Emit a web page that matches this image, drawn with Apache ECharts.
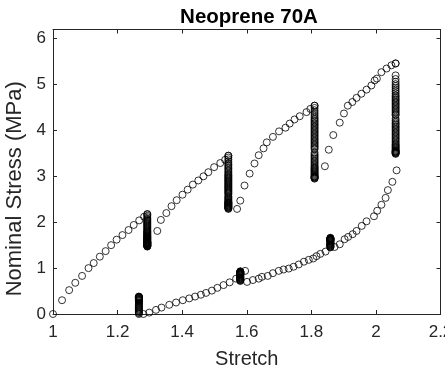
<!DOCTYPE html>
<html>
<head>
<meta charset="utf-8">
<script src="https://cdn.jsdelivr.net/npm/echarts@6/dist/echarts.min.js"></script>
<style>
html,body{margin:0;padding:0;background:#fff;}
#chart{width:445px;height:379px;}
</style>
</head>
<body>
<div id="chart"></div>
<script>
// ---- data ----
const titleText = 'Neoprene 70A';
const xName = 'Stretch';
const yName = 'Nominal Stress (MPa)';
const xTicks = [1, 1.2, 1.4, 1.6, 1.8, 2, 2.2];
const yTicks = [0, 1, 2, 3, 4, 5, 6];

// loading ramps
const loadingStretch = [
  1.000,1.028,1.050,1.069,1.090,1.110,1.126,1.145,1.163,1.180,1.197,1.215,1.234,1.250,1.267,1.282,1.292,
  1.323,1.334,1.351,1.367,1.383,1.401,1.417,1.433,1.450,1.466,1.481,1.499,1.518,1.533,1.543,
  1.570,1.580,1.593,1.609,1.624,1.637,1.652,1.662,1.681,1.700,1.720,1.733,1.748,1.764,1.785,1.797,1.810,
  1.842,1.854,1.868,1.888,1.901,1.913,1.927,1.940,1.955,1.971,1.986,1.996,2.003,2.017,2.033,2.048,2.061
];
const loadingStress = [
  0.00,0.30,0.52,0.68,0.83,1.00,1.11,1.25,1.37,1.50,1.62,1.72,1.83,1.94,2.04,2.12,2.18,
  1.81,2.05,2.20,2.35,2.48,2.60,2.71,2.82,2.91,3.00,3.09,3.20,3.29,3.36,3.45,
  2.29,2.47,2.80,3.06,3.28,3.46,3.61,3.74,3.86,3.98,4.06,4.15,4.24,4.31,4.40,4.47,4.54,
  3.22,3.58,3.90,4.17,4.37,4.54,4.62,4.71,4.80,4.89,4.98,5.09,5.13,5.27,5.35,5.42,5.46
];

// relaxation holds during loading
const relaxStretch = [1.292, 1.543, 1.810, 2.061];
const relax1Stress = [2.17,2.14,2.11,2.08,2.06,2.04,2.02,2.00,1.98,1.96,1.94,1.92,1.90,1.88,1.86,1.84,1.82,1.80,1.79,1.78,1.76,1.75,1.74,1.72,1.71,1.70,1.69,1.68,1.67,1.66,1.65,1.64,1.63,1.62,1.61,1.60,1.59,1.58,1.575,1.57,1.565,1.56,1.555,1.55,1.545,1.54,1.535,1.53,1.525,1.52,1.515,1.51,1.505,1.50,1.495,1.49,1.485,1.48,1.475,1.47];
const relax2Stress = [3.45,3.41,3.37,3.33,3.29,3.26,3.23,3.20,3.17,3.14,3.11,3.08,3.05,3.03,3.01,2.99,2.97,2.95,2.93,2.91,2.89,2.87,2.85,2.83,2.81,2.79,2.77,2.75,2.73,2.71,2.69,2.67,2.65,2.63,2.61,2.57,2.55,2.53,2.51,2.49,2.47,2.45,2.44,2.43,2.42,2.41,2.40,2.39,2.38,2.37,2.36,2.35,2.34,2.33,2.32,2.31,2.30,2.29];
const relax3Stress = [4.54,4.49,4.44,4.40,4.36,4.32,4.28,4.25,4.22,4.19,4.16,4.13,4.10,4.07,4.04,4.01,3.98,3.95,3.92,3.89,3.86,3.83,3.80,3.77,3.74,3.71,3.68,3.65,3.62,3.59,3.52,3.48,3.45,3.42,3.39,3.36,3.33,3.30,3.27,3.24,3.21,3.19,3.17,3.15,3.13,3.11,3.09,3.07,3.05,3.03,3.01,3.00,2.99,2.98,2.97,2.96,2.95];
const relax4Stress = [5.46,5.20,5.12,5.06,5.01,4.97,4.93,4.89,4.85,4.81,4.77,4.74,4.71,4.68,4.65,4.62,4.59,4.56,4.53,4.50,4.47,4.44,4.41,4.38,4.35,4.33,4.26,4.22,4.18,4.15,4.12,4.09,4.06,4.03,4.00,3.97,3.94,3.91,3.88,3.85,3.82,3.79,3.76,3.73,3.70,3.68,3.66,3.64,3.62,3.60,3.58,3.56,3.55,3.54,3.53,3.52,3.51,3.50,3.49];

// unloading path
const unloadingStretch = [
  2.064,2.051,2.037,2.030,2.017,2.004,1.994,1.971,1.956,1.940,1.928,1.914,1.903,1.888,1.872,
  1.844,1.828,1.816,1.806,1.792,1.777,1.761,1.745,1.730,1.714,1.699,1.681,1.665,1.647,1.637,1.619,1.601,1.595,
  1.567,1.547,1.528,1.509,1.492,1.474,1.458,1.440,1.422,1.402,1.381,1.360,1.336,1.319,1.298,1.280
];
const unloadingStress = [
  3.13,2.88,2.70,2.53,2.38,2.25,2.13,2.02,1.92,1.81,1.74,1.68,1.63,1.52,1.46,
  1.36,1.31,1.26,1.21,1.18,1.14,1.08,1.03,0.99,0.97,0.94,0.89,0.83,0.81,0.77,0.74,0.70,0.94,
  0.77,0.69,0.63,0.57,0.51,0.46,0.42,0.38,0.34,0.30,0.25,0.20,0.14,0.09,0.03,0.00
];

// recovery holds during unloading
const recoveryStretch = [1.859, 1.580, 1.266];
const recovery1Stress = [1.45,1.46,1.47,1.48,1.49,1.50,1.51,1.52,1.53,1.54,1.55,1.56,1.57,1.58,1.59,1.60,1.605,1.61,1.615,1.62,1.625,1.63,1.635,1.64,1.645,1.65,1.655,1.66];
const recovery2Stress = [0.72,0.73,0.74,0.75,0.76,0.77,0.78,0.79,0.80,0.81,0.82,0.83,0.84,0.85,0.86,0.865,0.87,0.875,0.88,0.885,0.89,0.895,0.90,0.905,0.91,0.915,0.92,0.925,0.93];
const recovery3Stress = [0.00,0.02,0.04,0.06,0.08,0.10,0.12,0.14,0.16,0.18,0.20,0.22,0.24,0.26,0.28,0.29,0.30,0.31,0.32,0.33,0.34,0.35,0.355,0.36,0.365,0.37,0.375,0.38];

// ---- build points ----
const points = [];
loadingStretch.forEach((s, i) => points.push([s, loadingStress[i]]));
[relax1Stress, relax2Stress, relax3Stress, relax4Stress].forEach((arr, k) =>
  arr.forEach(v => points.push([relaxStretch[k], v])));
unloadingStretch.forEach((s, i) => points.push([s, unloadingStress[i]]));
[recovery1Stress, recovery2Stress, recovery3Stress].forEach((arr, k) =>
  arr.forEach(v => points.push([recoveryStretch[k], v])));

const axisColor = '#262626';
const font = 'Liberation Sans, Arial, Helvetica, sans-serif';
const fmtX = v => xTicks.some(t => Math.abs(t - v) < 1e-9) ? String(+v.toFixed(1)) : '';
const fmtY = v => yTicks.some(t => Math.abs(t - v) < 1e-9) ? String(+v.toFixed(0)) : '';

const baseX = {
  type: 'value', min: 1, max: 2.2, interval: 0.2,
  axisLine: {show: true, onZero: false, lineStyle: {color: axisColor, width: 1}},
  axisTick: {show: true, inside: true, length: 4, lineStyle: {color: axisColor, width: 1}},
  splitLine: {show: false}
};
const baseY = {
  type: 'value', min: 0, max: 6.2, interval: 1,
  axisLine: {show: true, onZero: false, lineStyle: {color: axisColor, width: 1}},
  axisTick: {show: true, inside: true, length: 4, lineStyle: {color: axisColor, width: 1}},
  splitLine: {show: false}
};

const chart = echarts.init(document.getElementById('chart'), null, {renderer: 'canvas'});
chart.setOption({
  animation: false,
  backgroundColor: '#fff',
  title: {
    text: titleText, left: 244, top: 2, textAlign: 'center',
    textStyle: {fontFamily: font, fontSize: 20.5, fontWeight: 'bold', color: '#000'}
  },
  grid: {left: 53, right: 4.5, top: 29.5, bottom: 65, containLabel: false, outerBoundsMode: 'none'},
  xAxis: [
    Object.assign({}, baseX, {
      position: 'bottom',
      name: xName, nameLocation: 'middle', nameGap: 35,
      nameTextStyle: {fontFamily: font, fontSize: 20, color: axisColor},
      axisLabel: {show: true, margin: 10, formatter: fmtX, fontFamily: font, fontSize: 17, color: axisColor,
                  showMaxLabel: true, alignMaxLabel: 'center', alignMinLabel: 'center'}
    }),
    Object.assign({}, baseX, {position: 'top', axisLabel: {show: false}})
  ],
  yAxis: [
    Object.assign({}, baseY, {
      position: 'left',
      name: yName, nameLocation: 'middle', nameGap: 24, nameRotate: 90,
      nameTextStyle: {fontFamily: font, fontSize: 22, color: axisColor, padding: [0, 34, 0, 0]},
      axisLabel: {show: true, margin: 7, formatter: fmtY, fontFamily: font, fontSize: 17, color: axisColor}
    }),
    Object.assign({}, baseY, {position: 'right', axisLabel: {show: false}})
  ],
  series: [{
    type: 'scatter',
    xAxisIndex: 0, yAxisIndex: 0,
    data: points,
    symbol: 'circle',
    symbolSize: 7,
    clip: false,
    itemStyle: {color: 'rgba(0,0,0,0)', borderColor: '#000', borderWidth: 0.8, opacity: 1},
    emphasis: {disabled: true}
  }]
});
</script>
</body>
</html>
